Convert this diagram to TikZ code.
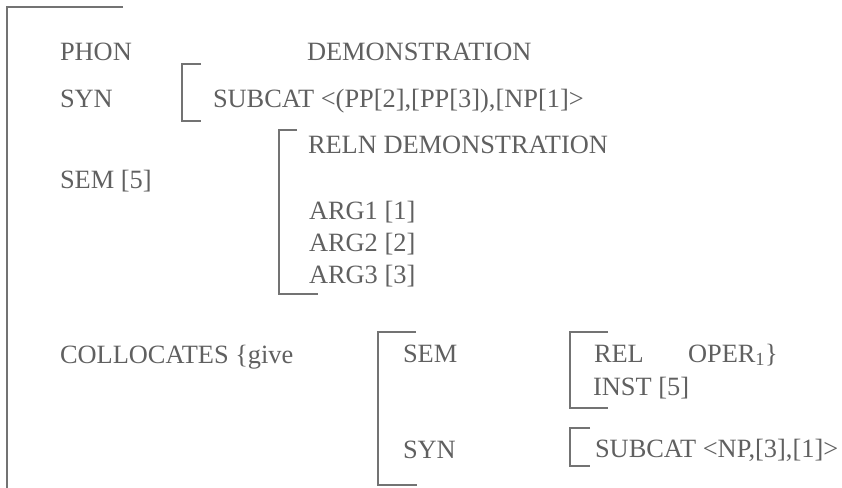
\documentclass[tikz,border=0pt]{standalone}
\usepackage{fontspec}
\setmainfont{Liberation Serif}
\definecolor{ink}{HTML}{606060}
\definecolor{rule}{HTML}{737373}
\tikzset{
  lbl/.style={anchor=base west, inner sep=0pt, outer sep=0pt, text=ink,
              font=\fontsize{26.4}{30}\selectfont},
  brk/.style={draw=rule, line width=2pt, line cap=butt, line join=miter}
}
\begin{document}
\begin{tikzpicture}[x=1pt,y=-1pt]
\useasboundingbox (0,0) rectangle (842,487);
% outer bracket
\draw[brk] (123,7) -- (7,7) -- (7,490);
% labels, first block
\node[lbl] (phon) at (60,60) {PHON};
\node[lbl] (demo) at (307,60) {DEMONSTRATION};
\node[lbl] (syn) at (60,107) {SYN};
\draw[brk] (201,64) -- (182,64) -- (182,121) -- (201,121);
\node[lbl] (subcat) at (213,107) {SUBCAT <(PP[2],[PP[3]),[NP[1]>};
\draw[brk] (297,130) -- (279,130) -- (279,294) -- (318,294);
\node[lbl] (reln) at (308,153) {RELN DEMONSTRATION};
\node[lbl] (sem) at (60,188) {SEM [5]};
\node[lbl] (arg1) at (309,219) {ARG1 [1]};
\node[lbl] (arg2) at (309,251) {ARG2 [2]};
\node[lbl] (arg3) at (309,283) {ARG3 [3]};
% collocates block
\node[lbl] (coll) at (60,363) {COLLOCATES \{give};
\draw[brk] (416,332) -- (378,332) -- (378,485) -- (417,485);
\node[lbl] (csem) at (403,362) {SEM};
\node[lbl] (csyn) at (403,458) {SYN};
\draw[brk] (608,332) -- (570,332) -- (570,408) -- (608,408);
\node[lbl] (rel) at (594,362) {REL};
\node[lbl] (oper) at (688,362) {OPER\textsubscript{1}\}};
\node[lbl] (inst) at (593,395) {INST [5]};
\draw[brk] (590,428) -- (570,428) -- (570,466) -- (590,466);
\node[lbl] (csub) at (595,457) {SUBCAT <NP,[3],[1]>};
\end{tikzpicture}
\end{document}
